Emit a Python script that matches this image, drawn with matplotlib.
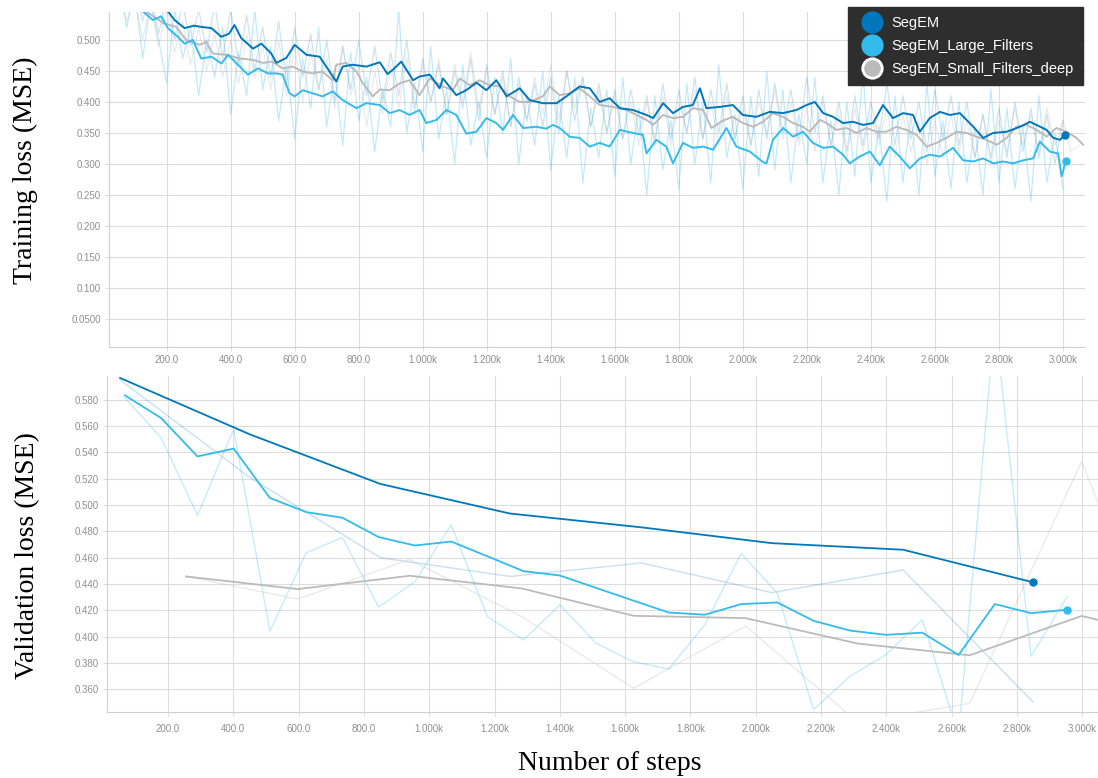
import matplotlib
matplotlib.use("Agg")
import matplotlib.pyplot as plt
from matplotlib.lines import Line2D

# ---- colours (TensorBoard palette) ----
C_SEG = "#0077bb"
C_LARGE = "#33bbee"
C_SMALL = "#bbbbbb"
SERIES_NAMES = ["SegEM", "SegEM_Large_Filters", "SegEM_Small_Filters_deep"]

# ---- training loss: smoothed curves ----
seg_train_steps = [60, 130, 204, 225, 256, 285, 308, 340, 371, 395, 412, 433, 470, 496, 527, 543,
                   574, 600, 637, 678, 709, 730, 750, 781, 824, 866, 890, 907, 933, 970, 990, 1022,
                   1053, 1063, 1105, 1136, 1168, 1199, 1230, 1262, 1303, 1334, 1375, 1418, 1449,
                   1490, 1522, 1553, 1584, 1616, 1657, 1699, 1720, 1751, 1782, 1813, 1844, 1866,
                   1886, 1928, 1969, 2000, 2042, 2084, 2126, 2167, 2199, 2225, 2251, 2282, 2313,
                   2344, 2376, 2407, 2438, 2469, 2501, 2532, 2553, 2584, 2616, 2647, 2678, 2720,
                   2751, 2782, 2824, 2866, 2897, 2949, 2970, 2991, 3006]
seg_train_smooth = [0.575, 0.560, 0.546, 0.532, 0.519, 0.523, 0.521, 0.519, 0.505, 0.510, 0.524,
                    0.503, 0.486, 0.494, 0.478, 0.463, 0.471, 0.492, 0.476, 0.473, 0.449, 0.433,
                    0.457, 0.460, 0.457, 0.464, 0.445, 0.452, 0.465, 0.435, 0.441, 0.444, 0.422,
                    0.438, 0.411, 0.419, 0.431, 0.419, 0.435, 0.409, 0.422, 0.403, 0.398, 0.398,
                    0.409, 0.425, 0.422, 0.400, 0.406, 0.390, 0.387, 0.379, 0.374, 0.398, 0.382,
                    0.392, 0.395, 0.422, 0.390, 0.392, 0.395, 0.379, 0.376, 0.384, 0.382, 0.387,
                    0.395, 0.400, 0.382, 0.376, 0.366, 0.368, 0.363, 0.366, 0.395, 0.374, 0.382,
                    0.379, 0.352, 0.374, 0.384, 0.379, 0.382, 0.360, 0.342, 0.350, 0.352, 0.360,
                    0.368, 0.355, 0.342, 0.339, 0.347]

large_train_steps = [60, 126, 157, 183, 204, 235, 256, 282, 308, 340, 371, 392, 423, 454, 485, 517,
                     545, 562, 584, 600, 625, 656, 687, 719, 750, 793, 824, 866, 897, 928, 959, 990,
                     1011, 1043, 1074, 1105, 1136, 1168, 1199, 1230, 1251, 1282, 1314, 1355, 1386,
                     1407, 1428, 1459, 1490, 1522, 1553, 1584, 1616, 1657, 1688, 1699, 1730, 1761,
                     1782, 1813, 1844, 1876, 1907, 1949, 1980, 2022, 2063, 2074, 2094, 2126, 2157,
                     2188, 2219, 2251, 2282, 2313, 2334, 2365, 2397, 2428, 2459, 2490, 2522, 2553,
                     2584, 2616, 2657, 2688, 2720, 2751, 2782, 2813, 2845, 2876, 2907, 2928, 2959,
                     2985, 2996, 3009]
large_train_smooth = [0.570, 0.546, 0.532, 0.538, 0.519, 0.505, 0.494, 0.500, 0.470, 0.473, 0.462,
                      0.476, 0.460, 0.444, 0.454, 0.446, 0.446, 0.444, 0.414, 0.409, 0.419, 0.414,
                      0.409, 0.417, 0.403, 0.390, 0.398, 0.395, 0.382, 0.387, 0.379, 0.387, 0.366,
                      0.371, 0.387, 0.379, 0.349, 0.352, 0.374, 0.366, 0.355, 0.379, 0.358, 0.360,
                      0.357, 0.363, 0.358, 0.344, 0.342, 0.328, 0.334, 0.328, 0.355, 0.350, 0.347,
                      0.317, 0.339, 0.328, 0.301, 0.334, 0.326, 0.328, 0.323, 0.358, 0.328, 0.320,
                      0.303, 0.301, 0.339, 0.358, 0.344, 0.352, 0.334, 0.326, 0.328, 0.315, 0.301,
                      0.312, 0.320, 0.298, 0.328, 0.312, 0.293, 0.309, 0.315, 0.312, 0.326, 0.306,
                      0.304, 0.309, 0.301, 0.304, 0.301, 0.306, 0.309, 0.336, 0.320, 0.317, 0.280,
                      0.305]

small_train_steps = [60, 130, 190, 230, 261, 303, 324, 344, 387, 428, 469, 500, 531, 562, 594, 625,
                     656, 687, 719, 730, 762, 793, 812, 844, 866, 897, 928, 959, 990, 1022, 1063,
                     1094, 1116, 1147, 1178, 1209, 1241, 1272, 1303, 1334, 1375, 1397, 1428, 1459,
                     1490, 1522, 1553, 1594, 1636, 1668, 1699, 1720, 1751, 1782, 1813, 1844, 1876,
                     1902, 1938, 1969, 2000, 2032, 2063, 2094, 2126, 2157, 2188, 2209, 2241, 2261,
                     2292, 2324, 2355, 2386, 2418, 2449, 2480, 2511, 2543, 2574, 2605, 2636, 2668,
                     2699, 2730, 2761, 2793, 2824, 2855, 2886, 2918, 2949, 2980, 3011, 3043, 3063]
small_train_smooth = [0.575, 0.548, 0.527, 0.521, 0.500, 0.492, 0.497, 0.478, 0.476, 0.470, 0.468,
                      0.463, 0.465, 0.454, 0.457, 0.449, 0.446, 0.449, 0.435, 0.460, 0.463, 0.449,
                      0.431, 0.409, 0.420, 0.419, 0.430, 0.435, 0.411, 0.438, 0.425, 0.419, 0.438,
                      0.427, 0.435, 0.427, 0.425, 0.409, 0.400, 0.400, 0.409, 0.425, 0.411, 0.414,
                      0.422, 0.409, 0.395, 0.392, 0.387, 0.379, 0.371, 0.363, 0.379, 0.374, 0.376,
                      0.390, 0.387, 0.358, 0.370, 0.376, 0.366, 0.360, 0.368, 0.382, 0.376, 0.366,
                      0.360, 0.352, 0.371, 0.366, 0.355, 0.358, 0.350, 0.358, 0.352, 0.352, 0.360,
                      0.355, 0.347, 0.328, 0.334, 0.342, 0.352, 0.350, 0.344, 0.339, 0.331, 0.342,
                      0.360, 0.363, 0.355, 0.344, 0.358, 0.352, 0.342, 0.331]

# ---- training loss: raw (unsmoothed) curves, one value every 25 steps ----
raw_steps = [50 + 25 * i for i in range(119)]
raw_steps_small = [50 + 25 * i for i in range(121)]

seg_train_raw = [0.60, 0.55, 0.59, 0.53, 0.58, 0.51, 0.57, 0.50, 0.56, 0.49, 0.55, 0.48, 0.56, 0.47,
                 0.55, 0.46, 0.54, 0.45, 0.52, 0.44, 0.53, 0.43, 0.52, 0.44, 0.51, 0.42, 0.50, 0.40,
                 0.49, 0.42, 0.50, 0.41, 0.49, 0.40, 0.48, 0.41, 0.50, 0.39, 0.47, 0.40, 0.46, 0.38,
                 0.45, 0.39, 0.47, 0.37, 0.46, 0.38, 0.45, 0.36, 0.44, 0.37, 0.43, 0.36, 0.44, 0.35,
                 0.45, 0.37, 0.44, 0.36, 0.43, 0.35, 0.42, 0.34, 0.42, 0.35, 0.41, 0.33, 0.43, 0.34,
                 0.42, 0.35, 0.44, 0.34, 0.42, 0.35, 0.43, 0.34, 0.41, 0.33, 0.42, 0.34, 0.43, 0.35,
                 0.42, 0.34, 0.44, 0.35, 0.41, 0.33, 0.40, 0.32, 0.41, 0.33, 0.40, 0.34, 0.43, 0.33,
                 0.41, 0.34, 0.40, 0.32, 0.42, 0.34, 0.41, 0.33, 0.40, 0.31, 0.38, 0.31, 0.39, 0.31,
                 0.40, 0.32, 0.39, 0.31, 0.38, 0.30, 0.37]

large_train_raw = [0.60, 0.52, 0.58, 0.47, 0.56, 0.50, 0.43, 0.55, 0.47, 0.52, 0.41, 0.50, 0.44,
                   0.52, 0.38, 0.48, 0.41, 0.55, 0.42, 0.49, 0.37, 0.46, 0.34, 0.47, 0.39, 0.52,
                   0.36, 0.45, 0.33, 0.48, 0.37, 0.44, 0.32, 0.42, 0.36, 0.55, 0.35, 0.43, 0.32,
                   0.49, 0.34, 0.42, 0.30, 0.46, 0.33, 0.40, 0.31, 0.44, 0.35, 0.47, 0.30, 0.41,
                   0.33, 0.45, 0.29, 0.41, 0.31, 0.44, 0.27, 0.39, 0.31, 0.42, 0.28, 0.44, 0.30,
                   0.39, 0.25, 0.41, 0.29, 0.37, 0.26, 0.43, 0.30, 0.40, 0.27, 0.46, 0.31, 0.38,
                   0.26, 0.41, 0.28, 0.45, 0.29, 0.42, 0.27, 0.38, 0.30, 0.44, 0.27, 0.37, 0.25,
                   0.40, 0.28, 0.45, 0.27, 0.36, 0.24, 0.41, 0.27, 0.38, 0.25, 0.43, 0.28, 0.37,
                   0.26, 0.40, 0.27, 0.36, 0.25, 0.42, 0.27, 0.39, 0.26, 0.36, 0.24, 0.41, 0.27,
                   0.35, 0.26]

small_train_raw = [0.59, 0.53, 0.57, 0.50, 0.56, 0.49, 0.55, 0.48, 0.53, 0.46, 0.52, 0.45, 0.51,
                   0.44, 0.50, 0.43, 0.51, 0.44, 0.49, 0.42, 0.50, 0.41, 0.49, 0.40, 0.48, 0.42,
                   0.47, 0.39, 0.49, 0.41, 0.46, 0.36, 0.45, 0.38, 0.46, 0.39, 0.47, 0.38, 0.46,
                   0.40, 0.47, 0.38, 0.46, 0.40, 0.48, 0.39, 0.45, 0.38, 0.44, 0.36, 0.43, 0.37,
                   0.44, 0.38, 0.46, 0.37, 0.45, 0.39, 0.44, 0.36, 0.42, 0.35, 0.41, 0.34, 0.40,
                   0.33, 0.40, 0.34, 0.41, 0.33, 0.40, 0.35, 0.42, 0.34, 0.40, 0.33, 0.41, 0.34,
                   0.39, 0.33, 0.40, 0.35, 0.42, 0.34, 0.40, 0.33, 0.39, 0.32, 0.40, 0.33, 0.38,
                   0.31, 0.39, 0.32, 0.38, 0.33, 0.39, 0.31, 0.38, 0.32, 0.37, 0.30, 0.37, 0.31,
                   0.38, 0.32, 0.37, 0.31, 0.38, 0.30, 0.37, 0.32, 0.39, 0.33, 0.38, 0.32, 0.39,
                   0.33, 0.37, 0.32, 0.33]

# ---- validation loss ----
seg_val_steps = [53, 450, 850, 1247, 1650, 2049, 2451, 2850]
seg_val_smooth = [0.5965, 0.5537, 0.5160, 0.4935, 0.4830, 0.4710, 0.4660, 0.4412]
seg_val_raw = [0.5950, 0.5210, 0.4600, 0.4457, 0.4559, 0.4334, 0.4506, 0.3502]

large_val_steps = [68, 179, 290, 401, 512, 623, 734, 845, 956, 1067, 1178, 1289, 1400, 1511,
                   1622, 1733, 1844, 1955, 2066, 2177, 2288, 2399, 2510, 2621, 2732, 2843, 2954]
large_val_smooth = [0.5833, 0.5660, 0.5369, 0.5428, 0.5053, 0.4946, 0.4903, 0.4756, 0.4692,
                    0.4722, 0.4610, 0.4497, 0.4464, 0.4370, 0.4276, 0.4183, 0.4166, 0.4247,
                    0.4259, 0.4120, 0.4046, 0.4013, 0.4030, 0.3860, 0.4247, 0.4178, 0.4204]
large_val_raw = [0.5813, 0.5510, 0.4922, 0.5575, 0.4039, 0.4637, 0.4753, 0.4224, 0.4417,
                 0.4850, 0.4152, 0.3975, 0.4241, 0.3950, 0.3811, 0.3753, 0.4089, 0.4632,
                 0.4329, 0.3445, 0.3698, 0.3863, 0.4128, 0.3250, 0.6400, 0.3850, 0.4306]

small_val_steps = [255, 597, 940, 1283, 1626, 1969, 2312, 2655, 2998, 3341]
small_val_smooth = [0.4457, 0.4361, 0.4462, 0.4366, 0.4158, 0.4140, 0.3947, 0.3858, 0.4157, 0.3950]
small_val_raw = [0.4457, 0.4285, 0.4585, 0.4152, 0.3608, 0.4080, 0.3350, 0.3492, 0.5331, 0.3170]

x_ticks = [200, 400, 600, 800, 1000, 1200, 1400, 1600, 1800, 2000, 2200, 2400, 2600, 2800, 3000]
x_tick_labels = ["200.0", "400.0", "600.0", "800.0", "1.000k", "1.200k", "1.400k", "1.600k",
                 "1.800k", "2.000k", "2.200k", "2.400k", "2.600k", "2.800k", "3.000k"]
train_y_ticks = [0.05, 0.10, 0.15, 0.20, 0.25, 0.30, 0.35, 0.40, 0.45, 0.50]
train_y_labels = ["0.0500", "0.100", "0.150", "0.200", "0.250", "0.300", "0.350", "0.400",
                  "0.450", "0.500"]
val_y_ticks = [0.36, 0.38, 0.40, 0.42, 0.44, 0.46, 0.48, 0.50, 0.52, 0.54, 0.56, 0.58]


def style_axes(ax):
    for side in ["top", "right"]:
        ax.spines[side].set_visible(False)
    for side in ["left", "bottom"]:
        ax.spines[side].set_color("#d0d0d0")
        ax.spines[side].set_linewidth(0.8)
    ax.grid(True, color="#dddddd", linewidth=0.8)
    ax.set_axisbelow(True)
    ax.tick_params(length=3, width=0.8, color="#dddddd", labelsize=7, labelcolor="#8f8f8f",
                   pad=3)
    for lbl in ax.get_xticklabels() + ax.get_yticklabels():
        lbl.set_family("Liberation Sans")
    ax.set_xticks(x_ticks)
    ax.set_xticklabels(x_tick_labels, family="Liberation Sans")


fig = plt.figure(figsize=(10.98, 7.78), dpi=100)

# ---------- training panel ----------
ax1 = fig.add_axes([109 / 1098, (778 - 347) / 778, 976 / 1098, 335 / 778])
ax1.plot(raw_steps, seg_train_raw, color=C_SEG, alpha=0.2, lw=0.9)
ax1.plot(raw_steps, large_train_raw, color=C_LARGE, alpha=0.3, lw=0.9)
ax1.plot(raw_steps_small, small_train_raw, color=C_SMALL, alpha=0.3, lw=0.9)
ax1.plot(small_train_steps, small_train_smooth, color=C_SMALL, lw=1.4)
ax1.plot(large_train_steps, large_train_smooth, color=C_LARGE, lw=1.4)
ax1.plot(seg_train_steps, seg_train_smooth, color=C_SEG, lw=1.4)
ax1.plot(seg_train_steps[-1], seg_train_smooth[-1], "o", color=C_SEG, ms=5)
ax1.plot(large_train_steps[-1], large_train_smooth[-1], "o", color=C_LARGE, ms=5)
ax1.set_xlim(20, 3069)
ax1.set_ylim(0.005, 0.545)
ax1.set_yticks(train_y_ticks)
ax1.set_yticklabels(train_y_labels)
style_axes(ax1)

handles = [
    Line2D([], [], ls="none", marker="o", ms=15, color=C_SEG, mec=C_SEG),
    Line2D([], [], ls="none", marker="o", ms=15, color=C_LARGE, mec=C_LARGE),
    Line2D([], [], ls="none", marker="o", ms=14, color=C_SMALL, mec="white", mew=2),
]
leg = ax1.legend(handles, SERIES_NAMES, loc="upper left", bbox_to_anchor=(848 / 1098, 1 - 7 / 778),
                 bbox_transform=fig.transFigure, frameon=True, fancybox=False, framealpha=1,
                 facecolor="#2e2e2e", edgecolor="#2e2e2e", labelcolor="white",
                 prop={"family": "Liberation Sans", "size": 10.5}, handletextpad=0.35,
                 borderpad=0.65, labelspacing=0.6, handlelength=2.0, borderaxespad=0)

# ---------- validation panel ----------
ax2 = fig.add_axes([107 / 1098, (778 - 712) / 778, 991 / 1098, 336 / 778])
ax2.plot(seg_val_steps, seg_val_raw, color=C_SEG, alpha=0.22, lw=1.0)
ax2.plot(large_val_steps, large_val_raw, color=C_LARGE, alpha=0.28, lw=1.0)
ax2.plot(small_val_steps, small_val_raw, color=C_SMALL, alpha=0.3, lw=1.0)
ax2.plot(small_val_steps, small_val_smooth, color=C_SMALL, lw=1.3)
ax2.plot(large_val_steps, large_val_smooth, color=C_LARGE, lw=1.3)
ax2.plot(seg_val_steps, seg_val_smooth, color=C_SEG, lw=1.3)
ax2.plot(seg_val_steps[-1], seg_val_smooth[-1], "o", color=C_SEG, ms=5)
ax2.plot(large_val_steps[-1], large_val_smooth[-1], "o", color=C_LARGE, ms=5)
ax2.set_xlim(13, 3048)
ax2.set_ylim(0.3427, 0.598)
ax2.set_yticks(val_y_ticks)
ax2.set_yticklabels(["%.3f" % v for v in val_y_ticks])
style_axes(ax2)
ax2.tick_params(axis="x", pad=6)

# axis titles (serif, as in the figure)
fig.text(25.5 / 1098, 1 - 170 / 778, "Training loss (MSE)", family="Liberation Serif",
         fontsize=20, rotation=90, ha="center", va="center")
fig.text(27.5 / 1098, 1 - 556 / 778, "Validation loss (MSE)", family="Liberation Serif",
         fontsize=20, rotation=90, ha="center", va="center")
fig.text(610 / 1098, 1 - 763 / 778, "Number of steps", family="Liberation Serif", fontsize=20,
         ha="center", va="center")

fig.savefig("out.png", dpi=100, facecolor="white")
